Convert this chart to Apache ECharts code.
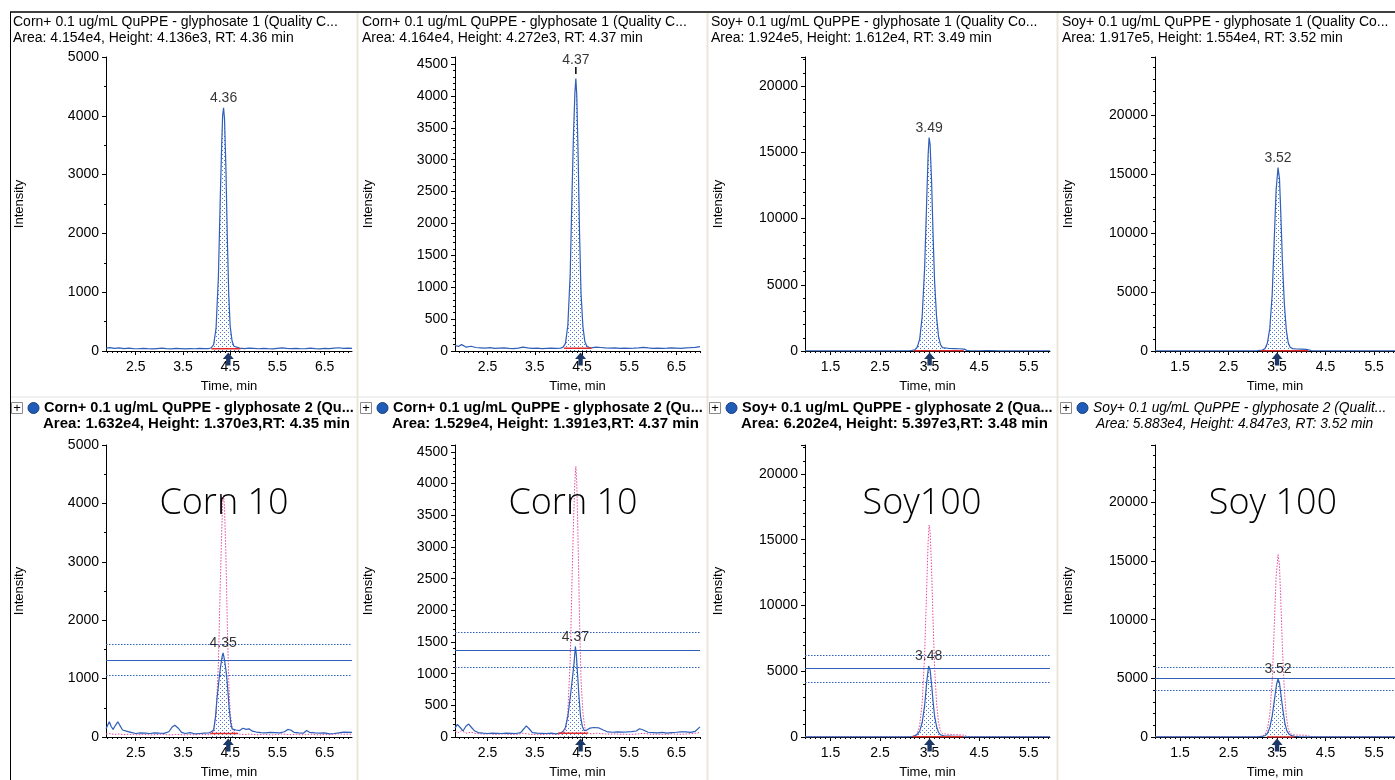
<!DOCTYPE html>
<html>
<head>
<meta charset="utf-8">
<script src="https://cdn.jsdelivr.net/npm/echarts@6/dist/echarts.min.js"></script>
<style>
html, body { margin: 0; padding: 0; background: #fff; }
#chart { width: 1395px; height: 780px; }
</style>
</head>
<body>
<div id="chart"></div>
<script>
// header texts
const topTitles = [
    'Corn+ 0.1 ug/mL QuPPE - glyphosate 1 (Quality C...',
    'Corn+ 0.1 ug/mL QuPPE - glyphosate 1 (Quality C...',
    'Soy+ 0.1 ug/mL QuPPE - glyphosate 1 (Quality Co...',
    'Soy+ 0.1 ug/mL QuPPE - glyphosate 1 (Quality Co...'
];
const topInfo = [
    'Area: 4.154e4, Height: 4.136e3, RT: 4.36 min',
    'Area: 4.164e4, Height: 4.272e3, RT: 4.37 min',
    'Area: 1.924e5, Height: 1.612e4, RT: 3.49 min',
    'Area: 1.917e5, Height: 1.554e4, RT: 3.52 min'
];
const botTitles = [
    'Corn+ 0.1 ug/mL QuPPE - glyphosate 2 (Qu...',
    'Corn+ 0.1 ug/mL QuPPE - glyphosate 2 (Qu...',
    'Soy+ 0.1 ug/mL QuPPE - glyphosate 2 (Qua...',
    'Soy+ 0.1 ug/mL QuPPE - glyphosate 2 (Qualit...'
];
const botInfo = [
    'Area: 1.632e4, Height: 1.370e3,RT: 4.35 min',
    'Area: 1.529e4, Height: 1.391e3,RT: 4.37 min',
    'Area: 6.202e4, Height: 5.397e3,RT: 3.48 min',
    'Area: 5.883e4, Height: 4.847e3, RT: 3.52 min'
];
const sampleLabels = ['Corn 10', 'Corn 10', 'Soy100', 'Soy 100'];
const rtLabelsTop = ['4.36', '4.37', '3.49', '3.52'];
const rtLabelsBot = ['4.35', '4.37', '3.48', '3.52'];
const expectedRT = [4.46, 4.47, 3.5, 3.5];

// axes
const xMin = [1.87, 1.81, 0.985, 0.985];
const xMax = [7.08, 7.0, 5.93, 5.93];
const xTickLabels = [
    [2.5, 3.5, 4.5, 5.5, 6.5],
    [2.5, 3.5, 4.5, 5.5, 6.5],
    [1.5, 2.5, 3.5, 4.5, 5.5],
    [1.5, 2.5, 3.5, 4.5, 5.5]
];
const yMax = [5000, 4610, 22200, 24900];
const yStep = [1000, 500, 5000, 5000];
const yMinorSplit = [2, 5, 5, 5];

// integration windows: [start, end, baseline]
const intTop = [[4.10, 4.72, 40], [4.12, 4.70, 45], [3.18, 4.19, 20], [3.17, 4.14, 15]];
const intBot = [[4.08, 4.67, 60], [4.00, 4.62, 60], [3.16, 4.17, 15], [3.29, 3.86, 10]];

// ion ratio window (bottom row)
const ratioMid = [1320, 1375, 5200, 4980];
const ratioHigh = [1584, 1650, 6240, 5976];
const ratioLow = [1056, 1100, 4160, 3984];

// chromatograms: [time, intensity]
const cornATop = [[1.87,50],[1.95,58],[2.05,45],[2.15,52],[2.25,40],[2.35,48],[2.45,42],[2.55,38],[2.65,45],[2.75,40],[2.85,36],[2.95,42],[3.05,48],[3.15,40],[3.25,35],[3.35,44],[3.45,40],[3.55,36],[3.65,42],[3.75,38],[3.85,45],[3.95,40],[4.05,42],[4.1,55],[4.15,110],[4.2,380],[4.25,1250],[4.29,2600],[4.32,3500],[4.34,4000],[4.36,4136],[4.38,3950],[4.41,3100],[4.44,1900],[4.47,950],[4.5,420],[4.54,170],[4.58,80],[4.62,55],[4.7,48],[4.8,42],[4.9,50],[5.0,44],[5.1,38],[5.2,46],[5.3,40],[5.4,36],[5.5,45],[5.6,52],[5.7,44],[5.8,40],[5.9,46],[6.0,38],[6.1,42],[6.2,50],[6.3,40],[6.4,36],[6.5,44],[6.6,40],[6.7,48],[6.8,55],[6.9,46],[7.0,50],[7.08,45]];
const cornBTop = [[1.81,90],[1.88,70],[1.95,100],[2.05,60],[2.15,75],[2.25,55],[2.35,50],[2.45,45],[2.55,52],[2.65,40],[2.75,45],[2.85,50],[2.95,42],[3.05,38],[3.15,45],[3.25,60],[3.35,48],[3.45,40],[3.55,44],[3.65,38],[3.75,42],[3.85,46],[3.95,40],[4.05,45],[4.1,60],[4.15,120],[4.2,400],[4.25,1200],[4.29,2500],[4.32,3400],[4.35,4050],[4.37,4272],[4.39,4000],[4.42,3000],[4.45,1800],[4.48,900],[4.52,380],[4.56,150],[4.6,80],[4.65,55],[4.7,50],[4.8,60],[4.9,55],[5.0,48],[5.1,45],[5.2,50],[5.3,42],[5.4,46],[5.5,40],[5.6,44],[5.7,50],[5.8,58],[5.9,48],[6.0,42],[6.1,46],[6.2,40],[6.3,44],[6.4,50],[6.5,46],[6.6,42],[6.7,48],[6.8,52],[6.9,58],[7.0,70]];
const soyATop = [[0.985,15],[1.2,20],[1.4,10],[1.6,18],[1.8,12],[2.0,20],[2.2,15],[2.4,10],[2.6,18],[2.8,12],[3.0,20],[3.1,30],[3.15,50],[3.2,90],[3.25,280],[3.3,900],[3.35,2600],[3.4,6300],[3.44,11200],[3.47,14800],[3.49,16120],[3.51,15600],[3.54,12800],[3.57,8800],[3.6,5300],[3.64,2600],[3.68,1100],[3.72,480],[3.76,260],[3.8,210],[3.9,190],[4.0,180],[4.1,170],[4.2,140],[4.25,50],[4.3,25],[4.5,20],[4.65,30],[4.68,150],[4.72,30],[4.9,15],[5.1,20],[5.3,12],[5.5,18],[5.7,15],[5.93,20]];
const soyBTop = [[0.985,12],[1.2,18],[1.4,10],[1.6,15],[1.8,20],[2.0,12],[2.2,18],[2.4,10],[2.6,15],[2.8,20],[3.0,15],[3.1,25],[3.15,45],[3.2,80],[3.25,200],[3.3,650],[3.35,1900],[3.4,4800],[3.44,9200],[3.48,13600],[3.52,15540],[3.55,14600],[3.58,11300],[3.61,7600],[3.65,4000],[3.69,1800],[3.73,700],[3.77,320],[3.82,200],[3.9,170],[4.0,160],[4.1,140],[4.15,90],[4.2,30],[4.4,15],[4.6,20],[4.8,12],[5.0,18],[5.2,10],[5.4,15],[5.6,20],[5.8,12],[5.93,15]];

const cornABot = [[1.87,140],[1.94,260],[1.98,180],[2.02,130],[2.07,200],[2.12,260],[2.17,190],[2.22,120],[2.3,100],[2.4,80],[2.5,60],[2.6,70],[2.7,65],[2.8,60],[2.9,70],[3.0,65],[3.1,62],[3.2,90],[3.27,170],[3.33,200],[3.4,150],[3.47,80],[3.55,60],[3.65,75],[3.75,55],[3.85,60],[3.95,65],[4.05,70],[4.1,90],[4.15,120],[4.19,350],[4.22,650],[4.26,950],[4.29,1170],[4.33,1380],[4.35,1440],[4.38,1320],[4.41,1150],[4.43,1000],[4.46,700],[4.48,480],[4.51,250],[4.54,140],[4.58,110],[4.62,120],[4.7,110],[4.77,150],[4.84,130],[4.9,140],[4.97,100],[5.05,85],[5.15,75],[5.25,70],[5.35,80],[5.45,75],[5.55,70],[5.65,90],[5.72,130],[5.78,120],[5.85,80],[5.95,70],[6.05,65],[6.12,110],[6.18,80],[6.3,70],[6.4,65],[6.5,70],[6.6,55],[6.7,60],[6.8,70],[6.9,85],[7.08,80]];
const cornBBot = [[1.81,140],[1.86,200],[1.92,150],[1.98,95],[2.04,170],[2.1,205],[2.16,150],[2.22,100],[2.3,70],[2.4,60],[2.5,55],[2.6,60],[2.7,58],[2.8,55],[2.9,60],[3.0,58],[3.1,55],[3.2,70],[3.27,130],[3.32,175],[3.38,130],[3.45,70],[3.55,60],[3.65,58],[3.75,55],[3.85,60],[3.95,50],[4.05,65],[4.1,90],[4.15,150],[4.2,320],[4.25,620],[4.29,880],[4.33,1150],[4.36,1430],[4.38,1300],[4.41,950],[4.44,600],[4.47,320],[4.51,160],[4.55,100],[4.6,110],[4.67,140],[4.75,150],[4.85,145],[4.95,110],[5.05,80],[5.15,75],[5.25,82],[5.35,78],[5.45,80],[5.55,85],[5.65,95],[5.72,130],[5.8,110],[5.9,75],[6.0,70],[6.1,65],[6.2,72],[6.3,60],[6.4,70],[6.5,75],[6.6,82],[6.7,80],[6.8,72],[6.9,90],[7.0,160]];
const soyABot = [[0.985,10],[1.3,15],[1.6,8],[1.9,12],[2.2,10],[2.5,14],[2.8,9],[3.0,12],[3.1,20],[3.15,40],[3.2,80],[3.25,200],[3.3,450],[3.35,1100],[3.4,2400],[3.44,4100],[3.48,5397],[3.51,5100],[3.54,4000],[3.57,2700],[3.6,1600],[3.64,800],[3.68,350],[3.72,170],[3.76,100],[3.8,70],[3.9,60],[4.0,50],[4.1,45],[4.17,30],[4.3,12],[4.6,10],[4.9,14],[5.2,8],[5.5,12],[5.93,10]];
const soyBBot = [[0.985,10],[1.3,12],[1.6,8],[1.76,10],[1.78,40],[1.8,10],[2.1,12],[2.4,9],[2.7,12],[3.0,10],[3.1,18],[3.2,45],[3.25,110],[3.3,300],[3.35,800],[3.4,1800],[3.45,3300],[3.49,4500],[3.52,4947],[3.55,4600],[3.58,3600],[3.62,2300],[3.66,1200],[3.7,550],[3.75,230],[3.8,110],[3.86,60],[3.95,30],[4.1,15],[4.4,10],[4.7,12],[5.0,9],[5.3,11],[5.6,8],[5.93,10]];

const topTraces = [cornATop, cornBTop, soyATop, soyBTop];
const botTraces = [cornABot, cornBBot, soyABot, soyBBot];

// layout
const colX = [13, 362, 711, 1062];
const gridLeft = [106, 455, 805, 1155];
const gridWidth = [246, 245, 245, 245];
const rowTop = [57, 445];
const rowHeight = [294, 295];

const FONT = '"Liberation Sans", Arial, sans-serif';
const BLUE = '#2f5fb8';
const PINK = '#e8489b';
const ARROW = 'path://M5,0 L10,6 L7,6 L7,12 L3,12 L3,6 L0,6 Z';

function dotPattern() {
    const c = document.createElement('canvas');
    c.width = 4; c.height = 4;
    const g = c.getContext('2d');
    g.fillStyle = '#ffffff';
    g.fillRect(0, 0, 4, 4);
    g.fillStyle = '#4a78cc';
    g.fillRect(0, 0, 1, 1);
    g.fillRect(2, 2, 1, 1);
    return c;
}
const pattern = { image: dotPattern(), repeat: 'repeat' };

const grids = [], xAxes = [], yAxes = [], series = [];

for (let r = 0; r < 2; r++) {
    for (let c = 0; c < 4; c++) {
        const i = r * 4 + c;
        const trace = r === 0 ? topTraces[c] : botTraces[c];
        const win = r === 0 ? intTop[c] : intBot[c];

        grids.push({ left: gridLeft[c], top: rowTop[r], width: gridWidth[c], height: rowHeight[r] });

        const minorTicks = [];
        for (let t = Math.ceil(xMin[c] * 10); t <= Math.floor(xMax[c] * 10); t++) minorTicks.push(t / 10);

        xAxes.push({
            type: 'value', gridIndex: i, position: 'bottom', min: xMin[c], max: xMax[c],
            axisLine: { onZero: false, lineStyle: { color: '#000', width: 1 } },
            axisTick: { customValues: minorTicks, length: 2, lineStyle: { color: '#000' } },
            axisLabel: { customValues: xTickLabels[c], fontSize: 14, fontFamily: FONT, color: '#000', margin: 9,
                formatter: v => v.toFixed(1) },
            splitLine: { show: false },
            name: 'Time, min', nameLocation: 'middle', nameGap: 29,
            nameTextStyle: { fontSize: 13, fontFamily: FONT, color: '#000' }
        });
        xAxes.push({
            type: 'value', gridIndex: i, position: 'bottom', min: xMin[c], max: xMax[c],
            axisLine: { show: false },
            axisTick: { customValues: xTickLabels[c], length: 4, lineStyle: { color: '#000' } },
            axisLabel: { show: false },
            splitLine: { show: false }
        });

        yAxes.push({
            type: 'value', gridIndex: i, min: 0, max: yMax[c], interval: yStep[c],
            axisLine: { show: true, lineStyle: { color: '#000', width: 1 } },
            axisTick: { show: true, length: 4, lineStyle: { color: '#000' } },
            minorTick: { show: true, splitNumber: yMinorSplit[c], length: 2, lineStyle: { color: '#000' } },
            axisLabel: { fontSize: 14, fontFamily: FONT, color: '#000', margin: 7,
                showMaxLabel: yMax[c] % yStep[c] === 0, formatter: v => String(v) },
            splitLine: { show: false },
            name: 'Intensity', nameLocation: 'middle', nameGap: 80, nameRotate: 90,
            nameTextStyle: { fontSize: 13, fontFamily: FONT, color: '#000' }
        });

        const xi = i * 2;
        // integrated area
        series.push({
            type: 'line', xAxisIndex: xi, yAxisIndex: i, silent: true, showSymbol: false, z: 1,
            data: trace.filter(p => p[0] >= win[0] && p[0] <= win[1]),
            lineStyle: { width: 0 }, areaStyle: { color: pattern, opacity: 1 }
        });
        // quantifier trace overlaid in pink on the confirming ion
        if (r === 1) {
            series.push({
                type: 'line', xAxisIndex: xi, yAxisIndex: i, silent: true, showSymbol: false, z: 2,
                data: topTraces[c],
                lineStyle: { color: PINK, width: 1, type: [1.5, 1.5] }
            });
        }
        const main = {
            type: 'line', xAxisIndex: xi, yAxisIndex: i, silent: true, showSymbol: false, z: 3,
            data: trace, lineStyle: { color: BLUE, width: 1.2 },
            markPoint: {
                silent: true, symbol: ARROW, symbolSize: [11, 13], symbolOffset: [0, 8],
                itemStyle: { color: '#1b3866' }, label: { show: false },
                data: [{ coord: [expectedRT[c], 0] }]
            }
        };
        if (r === 1) {
            main.markLine = {
                silent: true, symbol: ['none', 'none'], label: { show: false },
                lineStyle: { color: BLUE, width: 1.2 },
                data: [
                    { yAxis: ratioMid[c], lineStyle: { type: 'solid' } },
                    { yAxis: ratioHigh[c], lineStyle: { type: [1.5, 1.5] } },
                    { yAxis: ratioLow[c], lineStyle: { type: [1.5, 1.5] } }
                ]
            };
        }
        series.push(main);
        // integration baseline
        series.push({
            type: 'line', xAxisIndex: xi, yAxisIndex: i, silent: true, showSymbol: false, z: 4,
            data: [[win[0], win[2]], [win[1], win[2]]],
            lineStyle: { color: '#e52a2a', width: 1.5 }
        });
        // apex label
        let apex = trace[0];
        trace.forEach(p => { if (p[1] > apex[1]) apex = p; });
        const lbl = {
            type: 'scatter', xAxisIndex: xi, yAxisIndex: i, silent: true, z: 5,
            symbolSize: 1, itemStyle: { color: 'rgba(0,0,0,0)' },
            data: [apex],
            label: { show: true, position: 'top', distance: 2, fontSize: 14, fontFamily: FONT, color: '#000',
                formatter: r === 0 ? rtLabelsTop[c] : rtLabelsBot[c] }
        };
        if (r === 0 && c === 1) {
            lbl.label.distance = 11;
            lbl.markPoint = {
                silent: true, symbol: 'rect', symbolSize: [1.5, 7], symbolOffset: [0, -8],
                itemStyle: { color: '#000' }, label: { show: false },
                data: [{ coord: apex }]
            };
        }
        series.push(lbl);
    }
}

const graphics = [];
graphics.push({ type: 'line', shape: { x1: 10, y1: 12, x2: 1395, y2: 12 }, style: { stroke: '#000', lineWidth: 1.5 } });
graphics.push({ type: 'line', shape: { x1: 10.5, y1: 12, x2: 10.5, y2: 780 }, style: { stroke: '#000', lineWidth: 1 } });
[357.5, 707.5, 1057.5].forEach(x => {
    graphics.push({ type: 'line', shape: { x1: x, y1: 13, x2: x, y2: 780 }, style: { stroke: '#ebe7d8', lineWidth: 2 } });
});
graphics.push({ type: 'line', shape: { x1: 11, y1: 397, x2: 1395, y2: 397 }, style: { stroke: '#e2e2e2', lineWidth: 1 } });

for (let c = 0; c < 4; c++) {
    const x = colX[c];
    graphics.push({ type: 'text', x: x, y: 22, style: { text: topTitles[c], fontSize: 14, fontFamily: FONT, fill: '#000', verticalAlign: 'middle' } });
    graphics.push({ type: 'text', x: x, y: 38, style: { text: topInfo[c], fontSize: 14, fontFamily: FONT, fill: '#000', verticalAlign: 'middle' } });
    graphics.push({ type: 'rect', shape: { x: x - 1.5, y: 402.5, width: 11, height: 11 }, style: { fill: '#fff', stroke: '#8a8a8a', lineWidth: 1 } });
    graphics.push({ type: 'text', x: x + 4, y: 408, style: { text: '+', fontSize: 13, fontFamily: FONT, fill: '#000', align: 'center', verticalAlign: 'middle' } });
    graphics.push({ type: 'circle', shape: { cx: x + 20.5, cy: 408, r: 5.5 }, style: { fill: '#1f5cb8', stroke: '#173f80', lineWidth: 1 } });
    const italic = c === 3;
    graphics.push({ type: 'text', x: x + 31, y: 408, style: { text: botTitles[c], fontSize: italic ? 13.8 : 14.5, fontFamily: FONT,
        fontWeight: italic ? 'normal' : 'bold', fontStyle: italic ? 'italic' : 'normal', fill: '#000', verticalAlign: 'middle' } });
    graphics.push({ type: 'text', x: x + (italic ? 34 : 30), y: 424, style: { text: botInfo[c], fontSize: italic ? 13.8 : 15, fontFamily: FONT,
        fontWeight: italic ? 'normal' : 'bold', fontStyle: italic ? 'italic' : 'normal', fill: '#000', verticalAlign: 'middle' } });
    graphics.push({ type: 'text', x: x + 211, y: 504, z: 10, style: { text: sampleLabels[c], fontSize: 36, fontFamily: '"Open Sans", "Noto Sans", sans-serif',
        fontWeight: 300, fill: '#000', align: 'center', verticalAlign: 'middle' } });
}

const chart = echarts.init(document.getElementById('chart'));
chart.setOption({
    animation: false,
    backgroundColor: '#fff',
    grid: grids,
    xAxis: xAxes,
    yAxis: yAxes,
    series: series,
    graphic: graphics
});
</script>
</body>
</html>
